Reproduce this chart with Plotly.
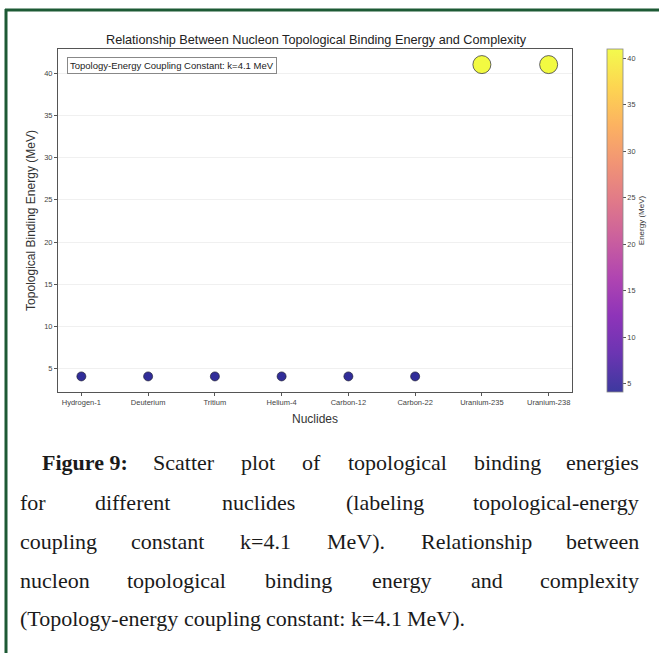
import plotly.graph_objects as go
import plotly.colors as pc

# ---------------- data ----------------
nuclides = ["Hydrogen-1", "Deuterium", "Tritium", "Helium-4",
            "Carbon-12", "Carbon-22", "Uranium-235", "Uranium-238"]
energies = [4.1, 4.1, 4.1, 4.1, 4.1, 4.1, 41.0, 41.0]
y_ticks = [5, 10, 15, 20, 25, 30, 35, 40]

title_text = "Relationship Between Nucleon Topological Binding Energy and Complexity"
box_text = "Topology-Energy Coupling Constant: k=4.1 MeV"
caption_lines = [
    ["<b>Figure 9:</b>", "Scatter", "plot", "of", "topological", "binding", "energies"],
    ["for", "different", "nuclides", "(labeling", "topological-energy"],
    ["coupling", "constant", "k=4.1", "MeV).", "Relationship", "between"],
    ["nucleon", "topological", "binding", "energy", "and", "complexity"],
    ["(Topology-energy", "coupling", "constant:", "k=4.1", "MeV)."],
]

# ---------------- layout constants ----------------
W, H = 659, 653
L, R, T, B = 58, 572, 49, 392
PW, PH = R - L, B - T


def px_x(x):
    return (x - L) / PW


def px_y(y):
    return (B - y) / PH


def blend(hexc, a):
    hexc = hexc.lstrip("#")
    r, g, b = int(hexc[0:2], 16), int(hexc[2:4], 16), int(hexc[4:6], 16)
    f = lambda c: round(a * c + (1 - a) * 255)
    return "rgb(%d,%d,%d)" % (f(r), f(g), f(b))


plasma = pc.sequential.Plasma
cscale_bar = [[i / (len(plasma) - 1), blend(c, 0.8)] for i, c in enumerate(plasma)]
cscale_pts = [[i / (len(plasma) - 1), blend(c, 0.85)] for i, c in enumerate(plasma)]

emin, emax = min(energies), max(energies)
sizes = [9 + (e - emin) / (emax - emin) * 9 for e in energies]

fig = go.Figure()
fig.add_trace(go.Scatter(
    x=nuclides, y=energies, mode="markers", opacity=1,
    marker=dict(
        size=sizes, color=energies, colorscale=cscale_pts, cmin=emin, cmax=emax,
        opacity=1,
        line=dict(color="rgba(30,30,50,0.85)", width=0.8),
        showscale=False,
    ),
    showlegend=False, hoverinfo="x+y",
))
# colour bar carrier (same data, invisible)
fig.add_trace(go.Scatter(
    x=nuclides, y=energies, mode="markers", hoverinfo="skip", showlegend=False,
    marker=dict(
        size=0.1, opacity=0, color=energies, colorscale=cscale_bar, cmin=emin, cmax=emax,
        showscale=True,
        colorbar=dict(
            x=px_x(607), xanchor="left", xref="paper", xpad=0, ypad=0,
            y=0.5, yanchor="middle", len=1, lenmode="fraction",
            thickness=16, thicknessmode="pixels",
            outlinecolor="#888", outlinewidth=0.8,
            tickvals=y_ticks, ticks="outside", ticklen=3, tickcolor="#555",
            tickfont=dict(family="Liberation Sans", size=7.3, color="#444"),
            title=dict(text="Energy (MeV)", side="right",
                       font=dict(family="Liberation Sans", size=8, color="#333")),
        ),
    ),
))

axis_common = dict(
    showline=True, linecolor="#555", linewidth=1, mirror=True,
    ticks="outside", ticklen=3, tickcolor="#555",
    tickfont=dict(family="Liberation Sans", size=7.5, color="#444"),
    zeroline=False,
)

fig.update_xaxes(
    range=[-0.35, 7.35], showgrid=False,
    title=dict(text="Nuclides", font=dict(family="Liberation Sans", size=12, color="#333"), standoff=8),
    **axis_common,
)
fig.update_yaxes(
    range=[2.255, 42.845], tickvals=y_ticks, showgrid=True, gridcolor="#f0f0f0", gridwidth=1,
    title=dict(text="Topological Binding Energy (MeV)",
               font=dict(family="Liberation Sans", size=12, color="#333"), standoff=5),
    **axis_common,
)

annotations = [
    dict(text=title_text, x=px_x(316), y=px_y(40), xref="paper", yref="paper",
         showarrow=False, xanchor="center", yanchor="middle",
         font=dict(family="Liberation Sans", size=12.7, color="#222")),
    dict(text=box_text, x=px_x(67), y=px_y(65), xref="paper", yref="paper",
         showarrow=False, xanchor="left", yanchor="middle",
         font=dict(family="Liberation Sans", size=9.5, color="#222"),
         bordercolor="#888", borderwidth=1, borderpad=2, bgcolor="white"),
]

# ---------------- justified caption ----------------
TW = {
    'a': 444, 'b': 500, 'c': 444, 'd': 500, 'e': 444, 'f': 333, 'g': 500, 'h': 500,
    'i': 278, 'j': 278, 'k': 500, 'l': 278, 'm': 778, 'n': 500, 'o': 500, 'p': 500,
    'q': 500, 'r': 333, 's': 389, 't': 278, 'u': 500, 'v': 500, 'w': 722, 'x': 500,
    'y': 500, 'z': 444, 'F': 556, 'S': 556, 'M': 889, 'V': 722, 'R': 667, 'T': 611,
    '(': 333, ')': 333, '.': 250, ':': 278, '-': 333, '=': 564, ' ': 250,
}
FS = 22


def word_w(w):
    if w.startswith("<b>"):
        return 3916 * FS / 1000
    return sum(TW.get(c, 500) for c in w) * FS / 1000


line_y = [462, 502, 541, 580, 618]
for i, words in enumerate(caption_lines):
    x0 = 40 if i == 0 else 18
    x1 = 641
    widths = [word_w(w) for w in words]
    if i == len(caption_lines) - 1:
        gap = 0.25 * FS
    else:
        gap = (x1 - x0 - sum(widths)) / (len(words) - 1)
    pos = x0
    for j, (w, ww) in enumerate(zip(words, widths)):
        last_justified = (j == len(words) - 1 and i != len(caption_lines) - 1)
        if j == 0:
            xa, xp = "left", pos
        elif last_justified:
            xa, xp = "right", x1
        else:
            xa, xp = "center", pos + ww / 2
        annotations.append(dict(
            text=w, x=px_x(xp), y=px_y(line_y[i]), xref="paper", yref="paper",
            showarrow=False, xanchor=xa, yanchor="middle",
            font=dict(family="Liberation Serif", size=FS, color="#1a1a1a"),
        ))
        pos += ww + gap

green = "#1d5a35"
shapes = [
    dict(type="line", xref="paper", yref="paper", x0=px_x(6), x1=px_x(6),
         y0=px_y(9), y1=px_y(660), line=dict(color=green, width=3)),
    dict(type="line", xref="paper", yref="paper", x0=px_x(5), x1=px_x(665),
         y0=px_y(10), y1=px_y(10), line=dict(color=green, width=3)),
]

fig.update_layout(
    width=W, height=H, autosize=False,
    margin=dict(l=L, r=W - R, t=T, b=H - B, pad=0, autoexpand=False),
    paper_bgcolor="white", plot_bgcolor="white",
    annotations=annotations, shapes=shapes,
    font=dict(family="Liberation Sans"),
)

fig.write_html("out.html")
